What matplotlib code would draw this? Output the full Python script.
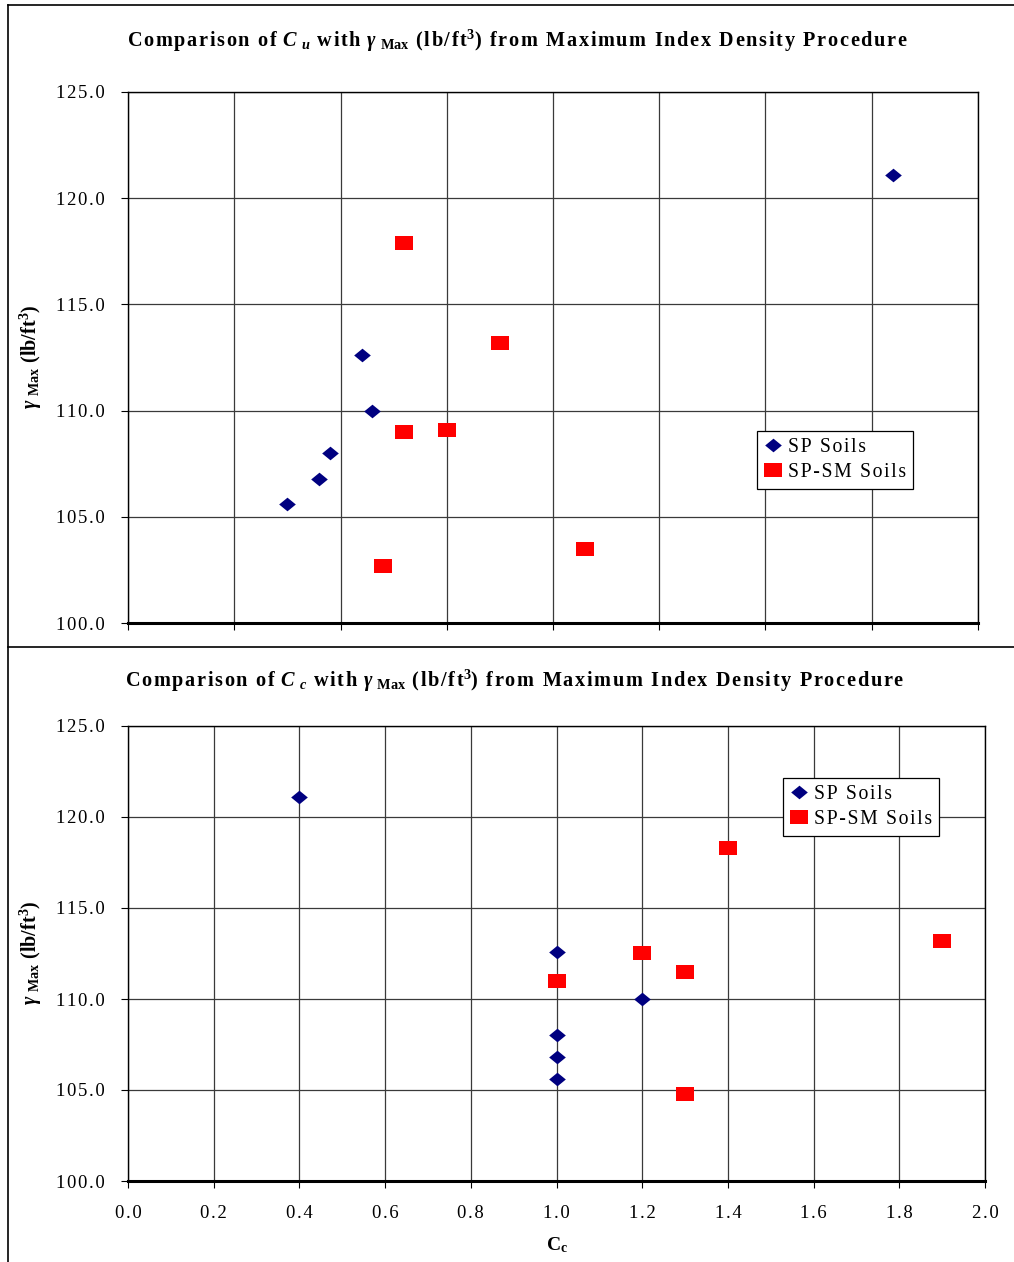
import matplotlib
matplotlib.use("Agg")
import matplotlib.pyplot as plt
from matplotlib.lines import Line2D
from matplotlib.patches import Rectangle
from matplotlib.font_manager import findfont, FontProperties
from matplotlib.ft2font import FT2Font
import numpy as np

# ---------------- data ----------------
cu_sp = [1.5, 1.8, 1.9, 2.2, 2.3, 7.2]
gmax_sp_cu = [105.6, 106.8, 108.0, 112.6, 110.0, 121.1]
cu_spsm = [2.6, 3.5, 2.6, 3.0, 2.4, 4.3]
gmax_spsm_cu = [117.9, 113.2, 109.0, 109.1, 102.7, 103.5]

cc_sp = [0.4, 1.0, 1.2, 1.0, 1.0, 1.0]
gmax_sp_cc = [121.1, 112.6, 110.0, 108.0, 106.8, 105.6]
cc_spsm = [1.0, 1.2, 1.3, 1.4, 1.9, 1.3]
gmax_spsm_cc = [111.0, 112.5, 111.5, 118.3, 113.2, 104.8]

cu_ticks = [0, 1, 2, 3, 4, 5, 6, 7, 8]
cc_ticks = [0.0, 0.2, 0.4, 0.6, 0.8, 1.0, 1.2, 1.4, 1.6, 1.8, 2.0]
y_ticks = [100, 105, 110, 115, 120, 125]
series_labels = ["SP Soils", "SP-SM Soils"]

# ---------------- style ----------------
SERIF = "Liberation Serif"
plt.rcParams["font.family"] = [SERIF, "DejaVu Serif"]
plt.rcParams["mathtext.fontset"] = "custom"
plt.rcParams["mathtext.rm"] = "Liberation Serif:bold"
plt.rcParams["mathtext.it"] = "Liberation Serif:bold:italic"
plt.rcParams["mathtext.bf"] = "Liberation Serif:bold"

try:
    _f = FT2Font(findfont(FontProperties(family=SERIF)))
    HS = "\u200a" if _f.get_char_index(0x200A) else ""
except Exception:
    HS = ""

def sp(s):
    return HS.join(s)

W, H = 1014, 1262
fig = plt.figure(figsize=(W / 100, H / 100), dpi=100)

NAVY = "#000080"
RED = "#FF0000"
diamond = [(-1, 0), (0, 0.82), (1, 0), (0, -0.82)]
rect = [(-0.6, -0.5), (0.6, -0.5), (0.6, 0.5), (-0.6, 0.5)]

def style_axes(ax, xticks, xlabels, xlim):
    ax.set_xlim(*xlim)
    ax.set_ylim(100, 125)
    ax.set_xticks(xticks)
    ax.set_xticklabels(xlabels)
    ax.set_yticks(y_ticks)
    ax.set_yticklabels([sp(f"{v:.1f}") for v in y_ticks])
    ax.grid(True, color="#3a3a3a", linewidth=0.9)
    ax.set_axisbelow(True)
    for s in ["top", "right", "left"]:
        ax.spines[s].set_linewidth(1.0)
        ax.spines[s].set_color("black")
    ax.spines["bottom"].set_linewidth(2.2)
    ax.spines["bottom"].set_color("black")
    ax.tick_params(axis="both", direction="out", length=5, width=0.8,
                   labelsize=13.5, colors="black")
    ax.tick_params(axis="x", pad=12)
    ax.tick_params(axis="y", pad=12)

def add_series(ax, x1, y1, x2, y2, legend_anchor):
    ax.plot(x1, y1, linestyle="none", marker=diamond, markersize=12,
            color=NAVY, markeredgewidth=0, label=sp(series_labels[0]), zorder=5)
    ax.plot(x2, y2, linestyle="none", marker=rect, markersize=12.5,
            color=RED, markeredgewidth=0, label=sp(series_labels[1]), zorder=5)
    leg = ax.legend(loc="upper left", bbox_to_anchor=legend_anchor,
                    borderaxespad=0, fancybox=False, framealpha=1,
                    edgecolor="black", fontsize=14.2, handlelength=0.9,
                    handletextpad=0.3, borderpad=0.35, labelspacing=0.3)
    leg.get_frame().set_linewidth(0.9)

# ---------------- top panel ----------------
ax1 = fig.add_axes([128 / W, 1 - 623 / H, 850 / W, 531 / H])
ax1.set_zorder(1)
style_axes(ax1, cu_ticks, [sp(f"{v:.1f}") for v in cu_ticks], (0, 8))
add_series(ax1, cu_sp, gmax_sp_cu, cu_spsm, gmax_spsm_cu,
           ((757 - 128) / 850, (623 - 431) / 531))

# ---------------- bottom panel ----------------
ax2 = fig.add_axes([128 / W, 1 - 1181 / H, 857 / W, 455 / H])
ax2.set_zorder(10)
style_axes(ax2, cc_ticks, [sp(f"{v:.1f}") for v in cc_ticks], (0, 2))
add_series(ax2, cc_sp, gmax_sp_cc, cc_spsm, gmax_spsm_cc,
           ((783 - 128) / 857, (1181 - 778) / 455))

# cover that clips the top panel's x tick labels (as in the reference)
cover = Rectangle((9 / W, 0), 1, (H - 647) / H, transform=fig.transFigure,
                  facecolor="white", edgecolor="none", zorder=5)
fig.add_artist(cover)

# frame lines
def fline(x0, y0, x1, y1, lw=1.2):
    fig.add_artist(Line2D([x0 / W, x1 / W], [1 - y0 / H, 1 - y1 / H],
                          transform=fig.transFigure, color="black",
                          linewidth=lw, zorder=20))

fline(8, 5, 8, H)
fline(8, 5, W, 5)
fline(8, 647, W, 647)

# titles and labels
def title_text(sym):
    return (sp("Comparison of ") + r"$C$" + " " + r"$_{" + sym + r"}$" + sp(" with ")
            + r"$\gamma$" + " " + r"$_{\mathrm{Max}}$"
            + sp(" (lb/ft") + r"$^{3}$" + sp(") from Maximum Index Density Procedure"))

fig.text(517 / W, 1 - 41 / H, title_text("u"), ha="center", va="center",
         fontsize=14.6, fontweight="bold", zorder=15)
fig.text(515 / W, 1 - 681 / H, title_text("c"), ha="center", va="center",
         fontsize=14.6, fontweight="bold", zorder=15)

ylab = r"$\gamma$" + " " + r"$_{\mathrm{Max}}$" + " (lb/ft" + r"$^{3}$" + ")"
fig.text(31 / W, 1 - 357 / H, ylab, rotation=90, ha="center", va="center",
         fontsize=14.5, fontweight="bold", zorder=15)
fig.text(31 / W, 1 - 953 / H, ylab, rotation=90, ha="center", va="center",
         fontsize=14.5, fontweight="bold", zorder=15)
fig.text(557 / W, 1 - 1245 / H, r"C$_{\mathrm{c}}$", ha="center", va="center",
         fontsize=14, fontweight="bold", zorder=15)

fig.savefig("out.png", dpi=100, facecolor="white")
